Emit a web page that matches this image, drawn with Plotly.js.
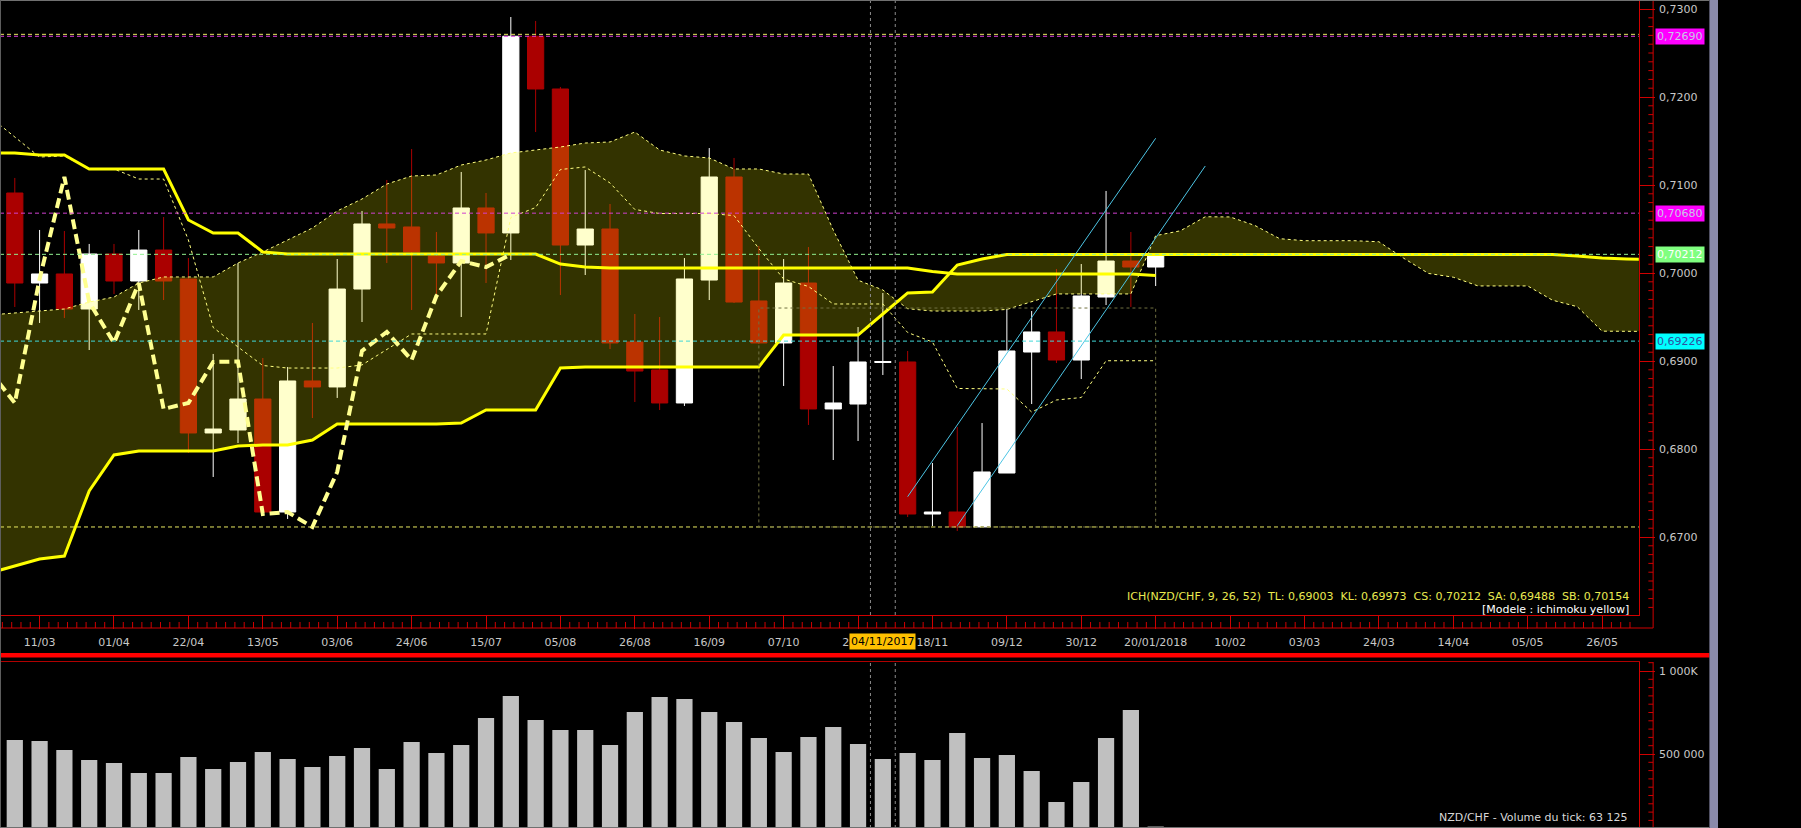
<!DOCTYPE html>
<html><head><meta charset="utf-8">
<script src="https://cdn.plot.ly/plotly-3.0.1.min.js"></script>
<style>html,body{margin:0;padding:0;background:#000;overflow:hidden}#chart{width:1801px;height:828px}</style>
</head><body><div id="chart"></div>
<script>
// ---------- DATA (weekly NZD/CHF) ----------
// week dates: index 0 = one week before first visible candle, then 47 candles, then 20 future weeks (cloud)
const weeks = ['2017-02-25','2017-03-04','2017-03-11','2017-03-18','2017-03-25','2017-04-01','2017-04-08','2017-04-15','2017-04-22','2017-04-29','2017-05-06','2017-05-13','2017-05-20','2017-05-27','2017-06-03','2017-06-10','2017-06-17','2017-06-24','2017-07-01','2017-07-08','2017-07-15','2017-07-22','2017-07-29','2017-08-05','2017-08-12','2017-08-19','2017-08-26','2017-09-02','2017-09-09','2017-09-16','2017-09-23','2017-09-30','2017-10-07','2017-10-14','2017-10-21','2017-10-28','2017-11-04','2017-11-11','2017-11-18','2017-11-25','2017-12-02','2017-12-09','2017-12-16','2017-12-23','2017-12-30','2018-01-06','2018-01-13','2018-01-20','2018-01-27','2018-02-03','2018-02-10','2018-02-17','2018-02-24','2018-03-03','2018-03-10','2018-03-17','2018-03-24','2018-03-31','2018-04-07','2018-04-14','2018-04-21','2018-04-28','2018-05-05','2018-05-12','2018-05-19','2018-05-26','2018-06-02','2018-06-09'];
const candleDates = weeks.slice(1, 48);

const open  = [0.70909,0.69886,0.69989,0.69591,0.70216,0.69909,0.70261,0.69932,0.68182,0.68216,0.68568,0.67284,0.68773,0.68705,0.69818,0.70557,0.70523,0.70193,0.70114,0.70739,0.70455,0.72690,0.72091,0.70318,0.70500,0.69216,0.68898,0.68523,0.69920,0.71091,0.69682,0.69205,0.69886,0.68455,0.68511,0.68983,0.68989,0.67261,0.67284,0.67114,0.67727,0.69102,0.69330,0.69011,0.69727,0.70136,0.70068];
const high  = [0.71080,0.70489,0.70477,0.70330,0.70330,0.70489,0.70636,0.70170,0.69080,0.70114,0.69034,0.68932,0.69432,0.70159,0.70705,0.71057,0.71409,0.70466,0.71148,0.70909,0.72909,0.72864,0.72114,0.71170,0.70784,0.69534,0.69500,0.70170,0.71420,0.71307,0.70307,0.70159,0.70295,0.68943,0.69386,0.69773,0.69114,0.67841,0.68250,0.68295,0.69591,0.69568,0.70045,0.70102,0.70932,0.70466,0.70227];
const low   = [0.69614,0.69432,0.69489,0.69125,0.69761,0.69580,0.69693,0.67955,0.67682,0.68068,0.67261,0.67205,0.68352,0.68580,0.69443,0.70114,0.69580,0.69693,0.69500,0.69886,0.70148,0.71602,0.69750,0.69977,0.69136,0.68534,0.68443,0.68489,0.69693,0.69659,0.69193,0.68716,0.68273,0.67875,0.68091,0.68841,0.67227,0.67125,0.67068,0.67114,0.67727,0.68511,0.68977,0.68795,0.69636,0.69614,0.69852];
const close = [0.69886,0.69989,0.69591,0.70216,0.69909,0.70261,0.69909,0.68182,0.68227,0.68568,0.67284,0.68773,0.68705,0.69818,0.70557,0.70511,0.70239,0.70114,0.70739,0.70455,0.72690,0.72091,0.70318,0.70500,0.69205,0.68886,0.68523,0.69932,0.71091,0.69670,0.69205,0.69886,0.68455,0.68523,0.68989,0.68994,0.67261,0.67284,0.67114,0.67739,0.69114,0.69330,0.69011,0.69739,0.70136,0.70068,0.70212];
const volume = [584000,578000,524000,464000,446000,386000,386000,482000,410000,452000,512000,470000,422000,488000,536000,410000,572000,506000,554000,717000,849000,705000,645000,645000,554000,753000,843000,831000,753000,693000,596000,512000,602000,663000,560000,470000,506000,464000,627000,476000,494000,398000,211000,331000,596000,765000,63125];

// Ichimoku lines (from week index 0 of `weeks`)
const tenkan = [0.71773,0.71545,0.71318,0.71330,0.71182,0.71182,0.71068,0.71068,0.70375,0.69381,0.69159,0.68949,0.68920,0.68920,0.68920,0.68955,0.69131,0.69307,0.69307,0.69307,0.69307,0.70631,0.70744,0.71176,0.71205,0.71023,0.70722,0.70676,0.70676,0.70676,0.70653,0.70278,0.69932,0.69847,0.69648,0.69648,0.69648,0.69324,0.69216,0.68688,0.68682,0.68682,0.68420,0.68557,0.68585,0.69003,0.69003,0.69003];
const kijun = [0.71364,0.71364,0.71341,0.71341,0.71182,0.71182,0.71182,0.71182,0.70602,0.70455,0.70455,0.70239,0.70216,0.70216,0.70216,0.70216,0.70216,0.70216,0.70216,0.70216,0.70216,0.70216,0.70216,0.70102,0.70068,0.70057,0.70057,0.70057,0.70057,0.70057,0.70057,0.70057,0.70057,0.70057,0.70057,0.70057,0.70057,0.70057,0.70017,0.69989,0.69989,0.69989,0.69989,0.69989,0.69989,0.69989,0.69989,0.69973];
const senkouA = [0.69523,0.69545,0.69568,0.69591,0.69670,0.69727,0.69886,0.69955,0.69955,0.69955,0.70114,0.70239,0.70375,0.70511,0.70705,0.70841,0.71011,0.71102,0.71114,0.71227,0.71284,0.71364,0.71398,0.71432,0.71477,0.71489,0.71602,0.71398,0.71330,0.71307,0.71182,0.71182,0.71125,0.71125,0.70489,0.69918,0.69807,0.69594,0.69568,0.69568,0.69568,0.69586,0.69674,0.69762,0.69762,0.69762,0.69762,0.70424,0.70480,0.70639,0.70637,0.70540,0.70390,0.70367,0.70367,0.70367,0.70355,0.70168,0.69995,0.69952,0.69853,0.69853,0.69853,0.69691,0.69617,0.69339,0.69336,0.69336];
const senkouB = [0.66591,0.66670,0.66750,0.66784,0.67523,0.67932,0.67977,0.67977,0.67977,0.67977,0.68034,0.68045,0.68045,0.68102,0.68284,0.68284,0.68284,0.68284,0.68284,0.68295,0.68443,0.68443,0.68443,0.68920,0.68932,0.68932,0.68932,0.68932,0.68932,0.68932,0.68932,0.68932,0.69295,0.69295,0.69295,0.69295,0.69534,0.69773,0.69784,0.70091,0.70159,0.70210,0.70210,0.70210,0.70210,0.70210,0.70210,0.70210,0.70210,0.70210,0.70210,0.70210,0.70210,0.70210,0.70210,0.70210,0.70210,0.70210,0.70210,0.70210,0.70210,0.70210,0.70210,0.70210,0.70193,0.70170,0.70159,0.70154];
const chikou = [0.68886,0.68523,0.69932,0.71091,0.69670,0.69205,0.69886,0.68455,0.68523,0.68989,0.68994,0.67261,0.67284,0.67114,0.67739,0.69114,0.69330,0.69011,0.69739,0.70136,0.70068,0.70212];

// axis ticks
const tickDates = ['2017-03-11','2017-04-01','2017-04-22','2017-05-13','2017-06-03','2017-06-24','2017-07-15','2017-08-05','2017-08-26','2017-09-16','2017-10-07','2017-10-28','2017-11-18','2017-12-09','2017-12-30','2018-01-20','2018-02-10','2018-03-03','2018-03-24','2018-04-14','2018-05-05','2018-05-26'];
const tickText  = ['11/03','01/04','22/04','13/05','03/06','24/06','15/07','05/08','26/08','16/09','07/10','28/10','18/11','09/12','30/12','20/01/2018','10/02','03/03','24/03','14/04','05/05','26/05'];
const priceTicks = [0.67,0.68,0.69,0.70,0.71,0.72,0.73];
const priceTickText = ['0,6700','0,6800','0,6900','0,7000','0,7100','0,7200','0,7300'];
const volTicks = [500000,1000000];
const volTickText = ['500 000','1 000K'];

// horizontal levels and tags
const levelPrices = [0.72712,0.72690,0.70680,0.70212,0.69226,0.67114];
const levelColors = ['#E8E860','#E040E0','#D040D0','#90F090','#40D8D8','#E8E860'];
const tagPrices = [0.72690,0.70680,0.70212,0.69226];
const tagTexts  = ['0,72690','0,70680','0,70212','0,69226'];
const tagBg     = ['#FF00FF','#FF00FF','#80FF80','#00FFFF'];
const tagFg     = ['#C8C8E8','#C8C8E8','#FFFFFF','#3050A0'];

// drawings
const trendX0 = ['2017-11-11','2017-11-25'];
const trendY0 = [0.67458,0.67128];
const trendX1 = ['2018-01-20','2018-02-03'];
const trendY1 = [0.71531,0.71216];
const boxX = ['2017-09-30','2018-01-20'];
const boxY = [0.67114,0.69602];
const crossX = ['2017-10-31 12:00','2017-11-07 12:00'];
const cursorDate = '2017-11-04';
const cursorText = '04/11/2017';
const ichText = 'ICH(NZD/CHF, 9, 26, 52)\u00a0\u00a0TL: 0,69003\u00a0\u00a0KL: 0,69973\u00a0\u00a0CS: 0,70212\u00a0\u00a0SA: 0,69488\u00a0\u00a0SB: 0,70154';
const modelText = '[Modele : ichimoku yellow]';
const volText = 'NZD/CHF - Volume du tick: 63 125';

// ---------- LAYOUT GEOMETRY ----------
const W = 1801, H = 828;
const PX = v => v / W, PY = v => 1 - v / H;
const plotRight = 1718, axisOuter = 1733, mainBottom = 615, stripBottom = 628, volTop = 662;
const DAY = 864e5;
const t0 = Date.parse(weeks[1]);
const xAt = px => new Date(t0 + (px - 15.5) / 26 * 7 * DAY).toISOString().replace('T', ' ').replace('Z', '');
const priceAt = py => 0.73 - (py - 9) / 8800;
const volAt = py => (837 - py) / 83 * 500000;
const xRange = [xAt(0), xAt(plotRight)];
const RED = '#D00000';
const FONT = 'DejaVu Sans, Verdana, sans-serif';

// ---------- TRACES ----------
const thinDash = {color:'#FFFF80', width:1, dash:'3px,3px'};
const traces = [
  {type:'candlestick', x:candleDates, open:open, high:high, low:low, close:close,
   increasing:{line:{color:'#FFFFFF', width:1}, fillcolor:'#FFFFFF'},
   decreasing:{line:{color:'#AA0000', width:1}, fillcolor:'#AA0000'},
   whiskerwidth:0, showlegend:false, hoverinfo:'skip'},
  {type:'scatter', mode:'lines', x:weeks, y:senkouA, line:{width:0, color:'rgba(0,0,0,0)'}, showlegend:false, hoverinfo:'skip'},
  {type:'scatter', mode:'lines', x:weeks, y:senkouB, fill:'tonexty', fillcolor:'rgba(255,255,0,0.2)', line:{width:0, color:'rgba(0,0,0,0)'}, showlegend:false, hoverinfo:'skip'},
  {type:'scatter', mode:'lines', x:weeks, y:senkouA, line:thinDash, showlegend:false, hoverinfo:'skip'},
  {type:'scatter', mode:'lines', x:weeks, y:senkouB, line:{color:'#FFFF00', width:3}, showlegend:false, hoverinfo:'skip'},
  {type:'scatter', mode:'lines', x:weeks.slice(0, 48), y:tenkan, line:thinDash, showlegend:false, hoverinfo:'skip'},
  {type:'scatter', mode:'lines', x:weeks.slice(0, 48), y:kijun, line:{color:'#FFFF00', width:3}, showlegend:false, hoverinfo:'skip'},
  {type:'scatter', mode:'lines', x:weeks.slice(0, 22), y:chikou, line:{color:'#FFFF90', width:4, dash:'10px,5px'}, showlegend:false, hoverinfo:'skip'},
  {type:'bar', x:candleDates, y:volume, xaxis:'x2', yaxis:'y2', width:0.654 * 7 * DAY,
   marker:{color:'#C0C0C0', line:{width:0}}, showlegend:false, hoverinfo:'skip'}
];

// ---------- SHAPES ----------
const shapes = [];
levelPrices.forEach((p, i) => shapes.push({type:'line', xref:'paper', yref:'y', x0:0, x1:PX(plotRight), y0:p, y1:p,
  line:{color:levelColors[i], width:1, dash:'4px,3px'}}));
shapes.push({type:'rect', xref:'x', yref:'y', x0:boxX[0], x1:boxX[1], y0:boxY[0], y1:boxY[1],
  line:{color:'#707040', width:1, dash:'3px,3px'}});
trendX0.forEach((x, i) => shapes.push({type:'line', xref:'x', yref:'y', x0:x, y0:trendY0[i], x1:trendX1[i], y1:trendY1[i],
  line:{color:'#4CC4E4', width:1}}));
crossX.forEach(x => {
  shapes.push({type:'line', xref:'x', yref:'y domain', x0:x, x1:x, y0:0, y1:1, line:{color:'#8C8C8C', width:1, dash:'3px,3px'}});
  shapes.push({type:'line', xref:'x', yref:'y2 domain', x0:x, x1:x, y0:0, y1:1, line:{color:'#8C8C8C', width:1, dash:'3px,3px'}});
});
// axis decorations: minor ticks & outer lines
for (let i = 662; i <= 730; i++) {
  if (i % 10 === 0) continue;
  shapes.push({type:'line', xref:'paper', yref:'y', x0:PX(axisOuter - 5), x1:PX(axisOuter), y0:i / 1000, y1:i / 1000, line:{color:RED, width:1}});
}
for (let i = 2; i <= 21; i++) {
  if (i % 10 === 0) continue;
  shapes.push({type:'line', xref:'paper', yref:'y2', x0:PX(axisOuter - 5), x1:PX(axisOuter), y0:i * 50000, y1:i * 50000, line:{color:RED, width:1}});
}
const tStart = Date.parse(tickDates[0]), tStep = 21 * DAY / 8;
const xmin = Date.parse(xRange[0].replace(' ', 'T') + 'Z'), xmax = Date.parse(xRange[1].replace(' ', 'T') + 'Z');
for (let j = -8; j < 200; j++) {
  const t = tStart + j * tStep;
  if (t < xmin) continue;
  if (t > xmax) break;
  if (j % 8 === 0) continue;
  const d = new Date(t).toISOString().replace('T', ' ').replace('Z', '');
  shapes.push({type:'line', xref:'x', yref:'paper', x0:d, x1:d, y0:PY(stripBottom - 6), y1:PY(stripBottom), line:{color:RED, width:1}});
}
shapes.push({type:'line', xref:'paper', yref:'paper', x0:PX(axisOuter), x1:PX(axisOuter), y0:PY(0), y1:PY(stripBottom), line:{color:RED, width:1}});
shapes.push({type:'line', xref:'paper', yref:'paper', x0:0, x1:PX(axisOuter), y0:PY(stripBottom), y1:PY(stripBottom), line:{color:RED, width:1}});
shapes.push({type:'line', xref:'paper', yref:'paper', x0:PX(axisOuter), x1:PX(axisOuter), y0:PY(volTop), y1:0, line:{color:RED, width:1}});
// separator & borders
shapes.push({type:'rect', xref:'paper', yref:'paper', x0:0, x1:PX(1792), y0:PY(657.5), y1:PY(653), fillcolor:'#FF0000', line:{width:0}});
shapes.push({type:'rect', xref:'paper', yref:'paper', x0:PX(1792), x1:1, y0:0, y1:1, fillcolor:'#8A8AAA', line:{width:0}});
shapes.push({type:'line', xref:'paper', yref:'paper', x0:0, x1:PX(1792), y0:PY(0.5), y1:PY(0.5), line:{color:'#707070', width:1}});
shapes.push({type:'line', xref:'paper', yref:'paper', x0:PX(0.5), x1:PX(0.5), y0:0, y1:1, line:{color:'#606060', width:1}});
shapes.push({type:'line', xref:'paper', yref:'paper', x0:0, x1:PX(1792), y0:PY(827.5), y1:PY(827.5), line:{color:'#707070', width:1}});

// ---------- ANNOTATIONS ----------
const annotations = [];
tagPrices.forEach((p, i) => annotations.push({xref:'paper', yref:'y', x:PX(axisOuter + 2), y:p, xanchor:'left', yanchor:'middle',
  text:tagTexts[i], showarrow:false, bgcolor:tagBg[i], borderpad:1, font:{family:FONT, size:11, color:tagFg[i]}}));
annotations.push({xref:'x', yref:'paper', x:cursorDate, y:PY(641), xanchor:'center', yanchor:'middle', text:cursorText,
  showarrow:false, bgcolor:'#FFC000', borderpad:1, font:{family:FONT, size:11, color:'#000000'}});
annotations.push({xref:'paper', yref:'paper', x:PX(1709.5), y:PY(596), xanchor:'right', yanchor:'middle', text:ichText,
  showarrow:false, font:{family:FONT, size:11, color:'#EAEA50'}});
annotations.push({xref:'paper', yref:'paper', x:PX(1709.5), y:PY(609), xanchor:'right', yanchor:'middle', text:modelText,
  showarrow:false, font:{family:FONT, size:11, color:'#FFFFFF'}});
annotations.push({xref:'paper', yref:'paper', x:PX(1709), y:PY(826), xanchor:'right', yanchor:'bottom', text:volText,
  showarrow:false, font:{family:FONT, size:11, color:'#D8D8D8'}});

// ---------- LAYOUT ----------
const axisFont = {family:FONT, size:11, color:'#C8C8C8'};
const layout = {
  width:W, height:H, margin:{l:0, r:W - plotRight, t:0, b:0},
  paper_bgcolor:'#000000', plot_bgcolor:'#000000', showlegend:false,
  boxgap:0.346, boxgroupgap:0,
  xaxis:{type:'date', domain:[0, PX(plotRight)], range:xRange, anchor:'y', rangeslider:{visible:false},
    tickmode:'array', tickvals:tickDates, ticktext:tickText, ticks:'outside', ticklen:stripBottom - mainBottom,
    tickcolor:RED, tickwidth:1, showline:true, linecolor:RED, linewidth:1, showgrid:false, zeroline:false,
    tickfont:axisFont, ticklabelstandoff:4, fixedrange:true},
  yaxis:{domain:[PY(mainBottom), 1], range:[priceAt(mainBottom), priceAt(0)], anchor:'x', side:'right',
    tickmode:'array', tickvals:priceTicks, ticktext:priceTickText, ticks:'outside', ticklen:axisOuter - plotRight,
    tickcolor:RED, tickwidth:1, showline:true, linecolor:RED, linewidth:1, showgrid:false, zeroline:false,
    tickfont:axisFont, ticklabelstandoff:2, fixedrange:true},
  xaxis2:{type:'date', domain:[0, PX(plotRight)], range:xRange, anchor:'y2', side:'top',
    showticklabels:false, ticks:'', showline:true, linecolor:'#B00000', linewidth:1, showgrid:false, zeroline:false, fixedrange:true},
  yaxis2:{domain:[0, PY(volTop)], range:[volAt(H), volAt(volTop)], anchor:'x2', side:'right',
    tickmode:'array', tickvals:volTicks, ticktext:volTickText, ticks:'outside', ticklen:axisOuter - plotRight,
    tickcolor:RED, tickwidth:1, showline:true, linecolor:RED, linewidth:1, showgrid:false, zeroline:false,
    tickfont:axisFont, ticklabelstandoff:2, fixedrange:true},
  shapes:shapes, annotations:annotations
};

Plotly.newPlot('chart', traces, layout, {staticPlot:true, displayModeBar:false});
</script>
</body></html>
